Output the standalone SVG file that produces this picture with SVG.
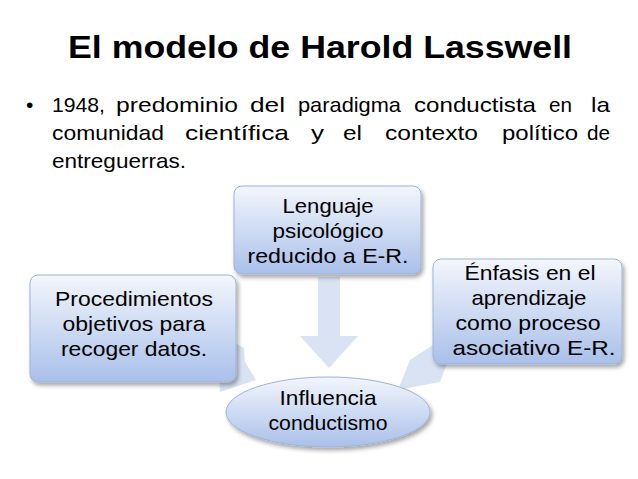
<svg xmlns="http://www.w3.org/2000/svg" width="638" height="479" viewBox="0 0 638 479">
<style>
.t{font-family:"Liberation Sans",Arial,sans-serif;fill:#000;font-size:21px}
.c{text-anchor:middle}
.box{fill:url(#g);stroke:#9fb3d4;stroke-width:1}
.arr{fill:#d3def1;opacity:0.85}
</style>
<defs>
<linearGradient id="g" x1="0" y1="0" x2="0" y2="1"><stop offset="0" stop-color="#f3f6fc"/><stop offset="1" stop-color="#a9c0ea"/></linearGradient>
<filter id="s" x="-10%" y="-10%" width="130%" height="130%"><feDropShadow dx="2" dy="3" stdDeviation="2" flood-opacity="0.35"/></filter>
</defs>
<rect width="638" height="479" fill="#fff"/>
<text class="t" x="68" y="58" style="font-size:32px" font-weight="bold" textLength="504" lengthAdjust="spacingAndGlyphs">El modelo de Harold Lasswell</text>
<text class="t" x="26" y="112">•</text>
<text class="t" x="52" y="112" textLength="53" lengthAdjust="spacingAndGlyphs">1948,</text>
<text class="t" x="116" y="112" textLength="122" lengthAdjust="spacingAndGlyphs">predominio</text>
<text class="t" x="250" y="112" textLength="35" lengthAdjust="spacingAndGlyphs">del</text>
<text class="t" x="298" y="112" textLength="103" lengthAdjust="spacingAndGlyphs">paradigma</text>
<text class="t" x="414" y="112" textLength="122" lengthAdjust="spacingAndGlyphs">conductista</text>
<text class="t" x="549" y="112" textLength="23" lengthAdjust="spacingAndGlyphs">en</text>
<text class="t" x="591" y="112" textLength="19" lengthAdjust="spacingAndGlyphs">la</text>
<text class="t" x="52" y="140" textLength="112" lengthAdjust="spacingAndGlyphs">comunidad</text>
<text class="t" x="185" y="140" textLength="104" lengthAdjust="spacingAndGlyphs">científica</text>
<text class="t" x="311" y="140" textLength="13" lengthAdjust="spacingAndGlyphs">y</text>
<text class="t" x="343" y="140" textLength="19" lengthAdjust="spacingAndGlyphs">el</text>
<text class="t" x="385" y="140" textLength="93" lengthAdjust="spacingAndGlyphs">contexto</text>
<text class="t" x="502" y="140" textLength="76" lengthAdjust="spacingAndGlyphs">político</text>
<text class="t" x="587" y="140" textLength="23" lengthAdjust="spacingAndGlyphs">de</text>
<text class="t" x="52" y="168" textLength="134" lengthAdjust="spacingAndGlyphs">entreguerras.</text>
<g id="connectors">
<polygon class="arr" points="318,277 340,277 340,336 358,336 329,368 300,336 318,336"/>
<polygon class="arr" points="222,335 244,348 245,362 256,380 220,392 218,360 212,352"/>
<polygon class="arr" points="456,343 440,330 436,343 410,360 398,390 440,382 446,366"/>
</g>
<g id="n4"><ellipse cx="328" cy="412" rx="102" ry="35" class="box" filter="url(#s)"/>
<text class="t c" x="328" y="405" textLength="97" lengthAdjust="spacingAndGlyphs">Influencia</text>
<text class="t c" x="328" y="430" textLength="119" lengthAdjust="spacingAndGlyphs">conductismo</text></g>
<g id="n1"><rect x="234" y="186" width="187" height="88" rx="8" class="box" filter="url(#s)"/>
<text class="t c" x="328" y="213" textLength="91" lengthAdjust="spacingAndGlyphs">Lenguaje</text>
<text class="t c" x="328" y="238" textLength="111" lengthAdjust="spacingAndGlyphs">psicológico</text>
<text class="t c" x="328" y="263" textLength="161" lengthAdjust="spacingAndGlyphs">reducido a E-R.</text></g>
<g id="n2"><rect x="30" y="275" width="206" height="107" rx="8" class="box" filter="url(#s)"/>
<text class="t c" x="134" y="306" textLength="158" lengthAdjust="spacingAndGlyphs">Procedimientos</text>
<text class="t c" x="134" y="331" textLength="143" lengthAdjust="spacingAndGlyphs">objetivos para</text>
<text class="t c" x="134" y="356" textLength="146" lengthAdjust="spacingAndGlyphs">recoger datos.</text></g>
<g id="n3"><rect x="433" y="259" width="189" height="105" rx="8" class="box" filter="url(#s)"/>
<text class="t c" x="530" y="280" textLength="131" lengthAdjust="spacingAndGlyphs">Énfasis en el</text>
<text class="t c" x="529" y="305" textLength="115" lengthAdjust="spacingAndGlyphs">aprendizaje</text>
<text class="t c" x="528" y="330" textLength="145" lengthAdjust="spacingAndGlyphs">como proceso</text>
<text class="t c" x="534" y="355" textLength="163" lengthAdjust="spacingAndGlyphs">asociativo E-R.</text></g>
</svg>
